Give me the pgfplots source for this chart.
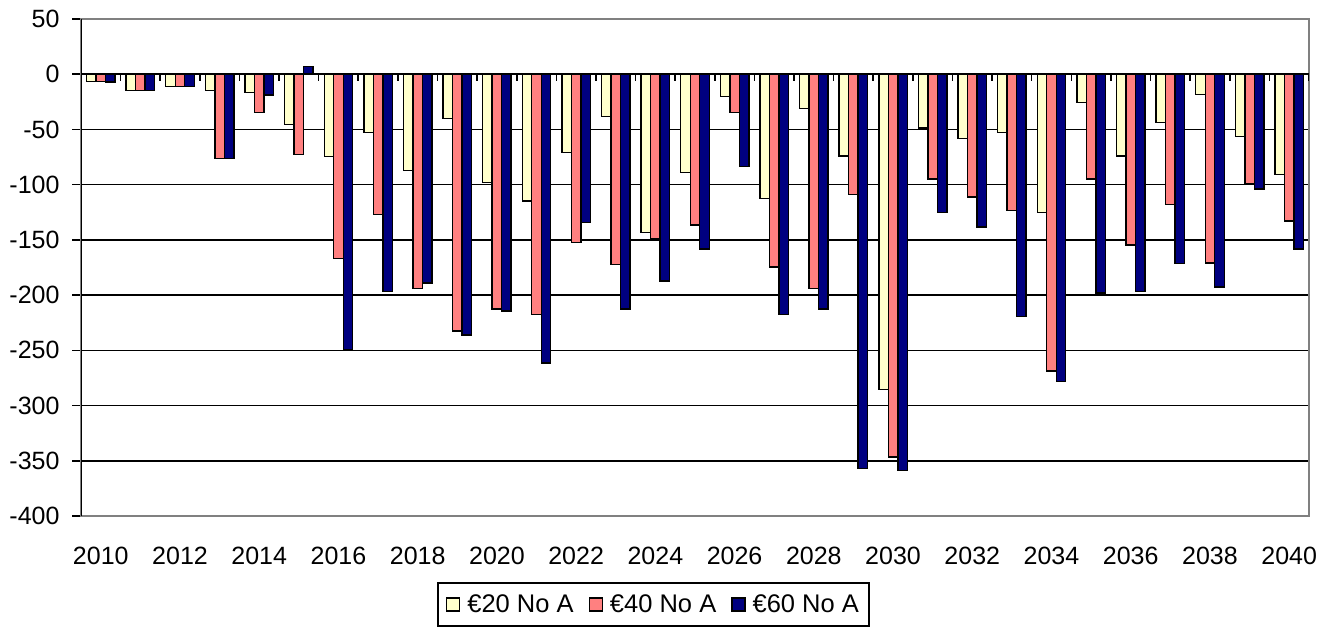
\documentclass[border=0pt]{standalone}
\usepackage{fontspec}
\setmainfont{Liberation Sans}
\usepackage{pgfplots}
\usepackage{pgfplotstable}
\pgfplotsset{compat=1.18}
\definecolor{c20}{HTML}{FFFFCC}
\definecolor{c40}{HTML}{FF8080}
\definecolor{c60}{HTML}{000080}
\definecolor{frm}{HTML}{808080}
\pgfplotstableread{
x y20 y40 y60
0 -6.7 -6.7 -7
1 -14.5 -14.5 -15
2 -11 -11 -11
3 -14.5 -76.5 -76.5
4 -16.4 -34.8 -18.8
5 -45.4 -72.9 6.9
6 -74.4 -167 -249.5
7 -53 -127 -196.6
8 -87.4 -194.2 -189
9 -40 -232.6 -236.2
10 -98 -212.6 -214.4
11 -114.7 -217.8 -261.3
12 -71.1 -152.4 -134.3
13 -38.1 -172.4 -212.6
14 -143.4 -148.8 -187.3
15 -89 -136.4 -158.2
16 -20 -34.5 -83.5
17 -112.5 -174.5 -217.8
18 -30.8 -194.2 -212.6
19 -74.1 -108.9 -357.2
20 -285.2 -346.4 -359
21 -48.7 -94.7 -125.2
22 -58 -111 -138.5
23 -52.6 -123.4 -219.6
24 -125.2 -268.6 -278
25 -25.4 -94.7 -198.1
26 -74.1 -154.6 -196.6
27 -43.6 -118 -171.2
28 -18.2 -170.9 -192.7
29 -56.3 -99.5 -104.1
30 -90.7 -132.8 -158.2
}\datatable
\pgfplotsset{sq legend/.style={legend image code/.code={\draw[##1, line width=1.3pt] (0pt,-6.5pt) rectangle (13pt,6.5pt);}}}
\begin{document}
\begin{tikzpicture}
\useasboundingbox (0,0) rectangle (1330pt,627pt);
\begin{axis}[
  at={(81pt,111pt)}, anchor=south west,
  scale only axis, width=1228pt, height=497pt,
  xmin=-0.5, xmax=30.5, ymin=-400, ymax=50,
  ybar=0pt, bar width=9.5pt,
  xtick={0,2,4,6,8,10,12,14,16,18,20,22,24,26,28,30},
  xticklabels={2010,2012,2014,2016,2018,2020,2022,2024,2026,2028,2030,2032,2034,2036,2038,2040},
  x tick style={draw=none},
  ytick={-400,-350,-300,-250,-200,-150,-100,-50,0,50},
  ytick pos=left,
  tick align=outside,
  major tick length=9pt,
  y tick style={black, line width=1.6pt},
  ymajorgrids, grid style={black, line width=1.6pt},
  axis line style={frm, line width=2pt},
  tick label style={font=\fontsize{25pt}{29pt}\selectfont},
  xticklabel style={yshift=-19pt},
  yticklabel style={xshift=-9pt},
  /pgf/number format/assume math mode=true,
  legend columns=3,
  legend style={at={(0.4662,0)}, anchor=north, yshift=-66pt, draw=black, line width=1.6pt,
    font=\fontsize{25.5pt}{30pt}\selectfont, inner xsep=8pt, inner ysep=10pt,
    /tikz/every odd column/.append style={column sep=5pt},
    /tikz/every even column/.append style={column sep=13pt}},
]
\addplot[fill=c20, draw=black, line width=1.4pt, sq legend] table[x=x,y=y20]{\datatable};
\addplot[fill=c40, draw=black, line width=1.4pt, sq legend] table[x=x,y=y40]{\datatable};
\addplot[fill=c60, draw=black, line width=1.4pt, sq legend] table[x=x,y=y60]{\datatable};
\legend{€20 No A,€40 No A,€60 No A}
\draw[black, line width=1.6pt] (axis cs:-0.5,0) -- (axis cs:30.5,0);
\pgfplotsinvokeforeach{-0.5,0.5,...,30.5}{\draw[black, line width=1.6pt] (axis cs:#1,0) -- ++(0pt,-7pt);}
\draw[black, line width=2pt] (rel axis cs:0,0) -- (rel axis cs:0,1);
\end{axis}
\end{tikzpicture}
\end{document}
